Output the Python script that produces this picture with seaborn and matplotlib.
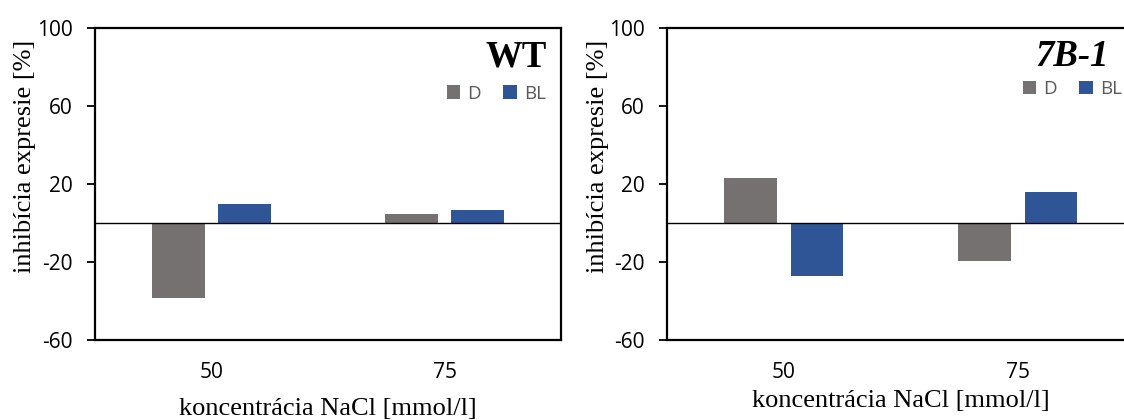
import pandas as pd
import numpy as np
import matplotlib
matplotlib.use("Agg")
import matplotlib.pyplot as plt
import seaborn as sns

# data
concentrations = ["50", "75"]
groups = ["D", "BL"]
wt_D = [-38.6, 4.6]
wt_BL = [9.6, 6.8]
b71_D = [23.1, -19.5]
b71_BL = [-27.2, 15.7]
yticks = [-60, -20, 20, 60, 100]

colors = {"D": "#767171", "BL": "#2F5597"}

sns.set_style("ticks")
plt.rcParams['font.family'] = ['Open Sans', 'DejaVu Sans']
plt.rcParams['axes.unicode_minus'] = False
plt.rcParams['text.color'] = 'black'
plt.rcParams['axes.labelcolor'] = 'black'
plt.rcParams['xtick.color'] = 'black'
plt.rcParams['ytick.color'] = 'black'


def make_df(d_vals, bl_vals):
    rows = []
    for c, v in zip(concentrations, d_vals):
        rows.append({"conc": c, "grp": "D", "val": v})
    for c, v in zip(concentrations, bl_vals):
        rows.append({"conc": c, "grp": "BL", "val": v})
    return pd.DataFrame(rows)


fig = plt.figure(figsize=(11.24, 4.2), dpi=100)
ax1 = fig.add_axes([95 / 1124, 80 / 420, 466 / 1124, 312 / 420])
ax2 = fig.add_axes([666.7 / 1124, 80 / 420, 468 / 1124, 312 / 420])

panels = [
    (ax1, make_df(wt_D, wt_BL), "WT", "normal", 0.970, 0.79, 0.968, -0.127, 10.5),
    (ax2, make_df(b71_D, b71_BL), "7B-1", "italic", 0.945, 0.803, 0.973, -0.123, 5),
]

for ax, df, title, tstyle, tx, ly, lx, ylx, xpad in panels:
    sns.barplot(data=df, x="conc", y="val", hue="grp", order=concentrations,
                hue_order=groups, palette=colors, saturation=1, width=0.57,
                gap=0.21, linewidth=0, ax=ax)
    ax.axhline(0, color="black", lw=1.0, zorder=3)
    ax.set_xlim(-0.5, 1.5)
    ax.set_ylim(-60, 100)
    ax.set_yticks(yticks)
    ax.tick_params(axis="y", length=6, width=1.3, labelsize=15, pad=10, color="black",
                   labelcolor="black")
    ax.tick_params(axis="x", length=0, labelsize=15, pad=16, labelcolor="black")
    for s in ax.spines.values():
        s.set_visible(True)
        s.set_linewidth(1.6)
        s.set_color("black")
    ax.set_ylabel("inhibícia expresie [%]", family="Liberation Serif", fontsize=19,
                  color="black")
    ax.yaxis.set_label_coords(ylx, 0.59)
    ax.set_xlabel("koncentrácia NaCl [mmol/l]", family="Liberation Serif",
                  fontsize=19, labelpad=xpad, color="black")
    ax.text(tx, 0.878, title, transform=ax.transAxes, ha="right", va="baseline",
            family="Liberation Serif", fontweight="bold", fontstyle=tstyle,
            fontsize=26.5, color="black")
    handles, labels = ax.get_legend_handles_labels()
    leg = ax.legend(handles, labels, loc="center right", bbox_to_anchor=(lx, ly),
                    ncol=2, frameon=False, fontsize=13.5, handlelength=0.7,
                    handleheight=0.7, handletextpad=0.4, columnspacing=1.2,
                    borderpad=0, borderaxespad=0)
    for t in leg.get_texts():
        t.set_color("#595959")

plt.savefig("out.png", dpi=100)
